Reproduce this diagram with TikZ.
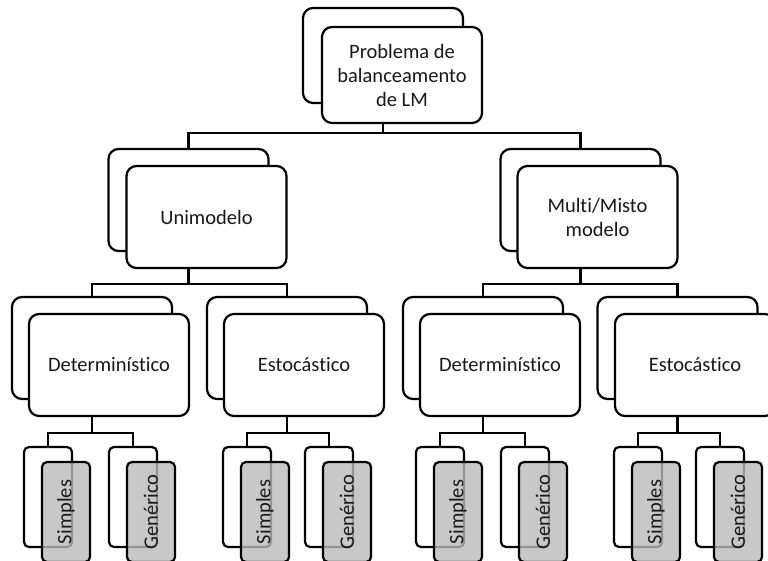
\documentclass[tikz,border=0pt]{standalone}
\usepackage{fontspec}
\setmainfont{Carlito}[Ligatures=NoCommon]
\usetikzlibrary{positioning,calc}

\begin{document}
\begin{tikzpicture}
		[x=1pt, y=-1pt,
		back/.style ={rectangle, draw=black, line width=2.2pt, fill=white, rounded corners=10pt, minimum width=160pt, minimum height=102pt, inner sep=0pt},
		front/.style ={back, align=center, text=black!90, font=\fontsize{20.5}{24}\selectfont},
		leafback/.style ={rectangle, draw=black, line width=2.2pt, rounded corners=5pt, minimum width=48pt, minimum height=100pt, inner sep=0pt},
		leaf/.style ={rectangle, draw=black, line width=2.2pt, rounded corners=5pt, minimum width=100pt, minimum height=48pt, inner sep=0pt, fill=black!27, fill opacity=0.8, text opacity=1, text=black!90, rotate=90, font=\fontsize{20.5}{24}\selectfont},
		line/.style ={draw, line width=2.2pt},
		]
		\useasboundingbox (0,0) rectangle (768,561);
		\clip (0,0) rectangle (768,561);

		% top
		\draw (383,55.5) node[back, minimum height=95pt] (probB) {};
		\draw (402,75) node[front, minimum height=96pt] (probF) {Problema de\\balanceamento\\de LM};

		% second row
		\draw (188.5,200) node[back] (uniB) {};
		\draw (206.5,217) node[front] (uniF) {Unimodelo};
		\draw (580.5,200) node[back] (mulB) {};
		\draw (597.5,217) node[front] (mulF) {Multi/Misto\\modelo};

		% third row
		\draw (92,348) node[back] (detUB) {};
		\draw (109,365) node[front] (detUF) {Determinístico};
		\draw (287,348) node[back] (estUB) {};
		\draw (304,365) node[front] (estUF) {Estocástico};
		\draw (483,348) node[back] (detMB) {};
		\draw (500,365) node[front] (detMF) {Determinístico};
		\draw (677.5,348) node[back] (estMB) {};
		\draw (695,365) node[front] (estMF) {Estocástico};

		\draw[line] (probB |- probF.south) -- ++(0,9) coordinate (probJ);
		\draw[line] (uniB.north) |- (probJ) -| (mulB.north);
		\draw[line] (uniB |- uniF.south) -- ++(0,15) coordinate (uniJ);
		\draw[line] (detUB.north) |- (uniJ) -| (estUB.north);
		\draw[line] (mulB |- mulF.south) -- ++(0,15) coordinate (mulJ);
		\draw[line] (detMB.north) |- (mulJ) -| (estMB.north);

		% leaves
		\foreach \p/\a/\b in {detU/48/133, estU/247/329, detM/440/525, estM/638/720} {
			\draw (\a,497) node[leafback] (\p-sb) {};
			\draw (\a+18,512) node[leaf] (\p-sf) {Simples};
			\draw (\b,497) node[leafback] (\p-gb) {};
			\draw (\b+18,512) node[leaf] (\p-gf) {Genérico};
			\draw[line] (\p B |- \p F.south) -- ++(0,16) coordinate (\p J);
			\draw[line] (\p-sb.north) |- (\p J) -| (\p-gb.north);
		}
	\end{tikzpicture}
\end{document}
